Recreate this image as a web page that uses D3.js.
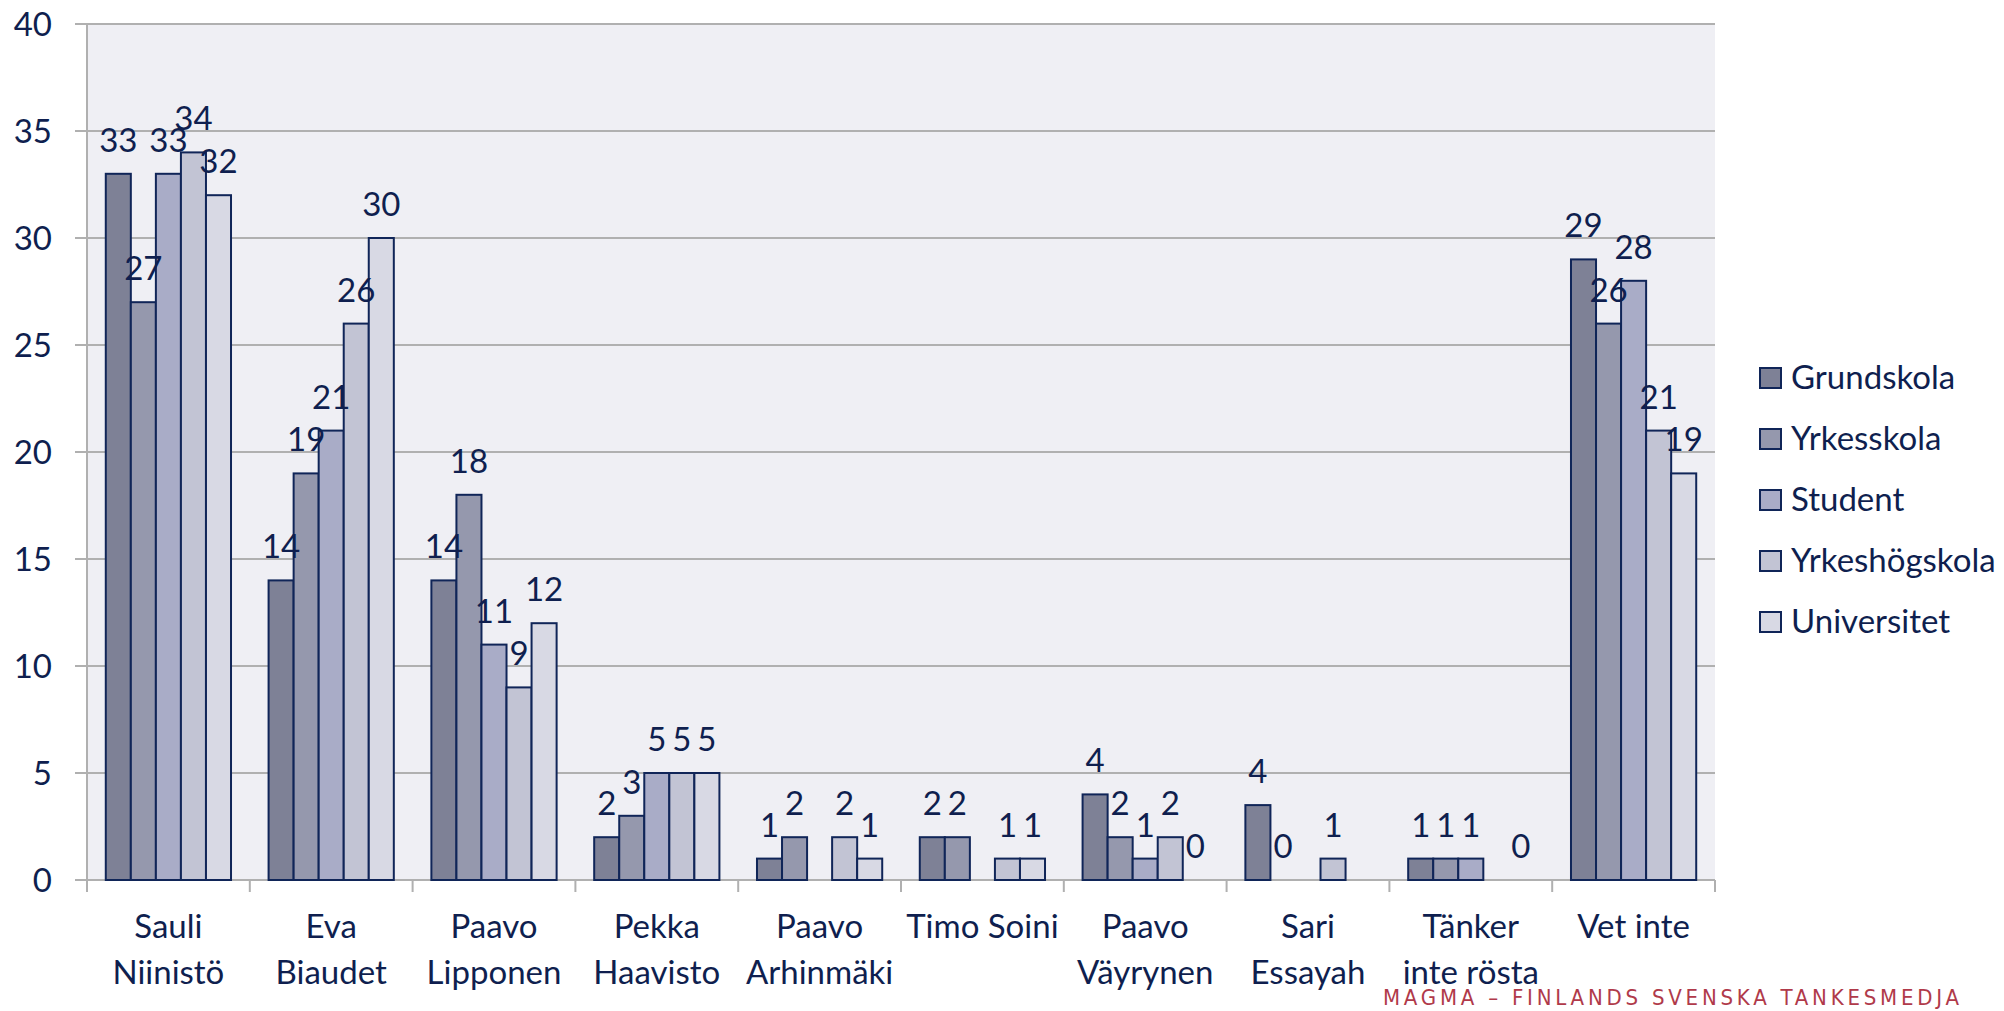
<!DOCTYPE html>
<meta charset="utf-8">
<head>
    <title>Presidentval per utbildning</title>
    <style>
        body { margin: 0; background: #ffffff; }
        text { font-family: Lato, "Open Sans", sans-serif; fill: #0f1f4f; }
    </style>
</head>
<body>
    <script src="https://cdn.jsdelivr.net/npm/d3@7"></script>
    <script>
        // categories (candidates), split in lines as in the original
        var candidates = [
            ["Sauli", "Niinistö"],
            ["Eva", "Biaudet"],
            ["Paavo", "Lipponen"],
            ["Pekka", "Haavisto"],
            ["Paavo", "Arhinmäki"],
            ["Timo Soini"],
            ["Paavo", "Väyrynen"],
            ["Sari", "Essayah"],
            ["Tänker", "inte rösta"],
            ["Vet inte"]
        ];
        var series = ["Grundskola", "Yrkesskola", "Student", "Yrkeshögskola", "Universitet"];
        var colors = ["#7e8196", "#9598ad", "#a9acc7", "#c2c4d4", "#d8d9e4"];

        // values per series, null = no bar and no label
        var grundskola    = [33, 14, 14, 2, 1, 2, 4, 3.5, 1, 29];
        var yrkesskola    = [27, 19, 18, 3, 2, 2, 2, 0, 1, 26];
        var student       = [33, 21, 11, 5, null, null, 1, null, 1, 28];
        var yrkeshogskola = [34, 26, 9, 5, 2, 1, 2, 1, null, 21];
        var universitet   = [32, 30, 12, 5, 1, 1, 0, null, 0, 19];
        var yTicks = [0, 5, 10, 15, 20, 25, 30, 35, 40];

        var values = [grundskola, yrkesskola, student, yrkeshogskola, universitet];

        var width = 2004, height = 1011;
        var plot = { left: 87, right: 1715, top: 24, bottom: 880 };
        var fontSize = "33px";

        var svg = d3.select("body").append("svg")
            .attr("width", width)
            .attr("height", height);

        var x = d3.scaleBand()
            .domain(d3.range(candidates.length))
            .range([plot.left, plot.right]);

        // Excel style gap: 1.5 bar widths between groups
        var barW = x.bandwidth() / (series.length + 1.5);
        var x1 = d3.scaleBand()
            .domain(d3.range(series.length))
            .range([barW * 0.75, barW * 0.75 + barW * series.length]);

        var y = d3.scaleLinear()
            .domain([0, 40])
            .range([plot.bottom, plot.top]);

        // plot background
        svg.append("rect")
            .attr("x", plot.left)
            .attr("y", plot.top)
            .attr("width", plot.right - plot.left)
            .attr("height", plot.bottom - plot.top)
            .style("fill", "#efeff4");

        // gridlines
        svg.append("g")
            .selectAll("line")
            .data(yTicks)
            .enter()
            .append("line")
            .attr("x1", plot.left - 12)
            .attr("x2", plot.right)
            .attr("y1", function (d) { return y(d); })
            .attr("y2", function (d) { return y(d); })
            .style("stroke", "#b0b0b0")
            .style("stroke-width", 2);

        // y axis line
        svg.append("line")
            .attr("x1", plot.left).attr("x2", plot.left)
            .attr("y1", plot.top).attr("y2", plot.bottom + 12)
            .style("stroke", "#b0b0b0")
            .style("stroke-width", 2);

        // category ticks
        svg.append("g")
            .selectAll("line")
            .data(d3.range(candidates.length + 1))
            .enter()
            .append("line")
            .attr("x1", function (d) { return plot.left + d * x.step(); })
            .attr("x2", function (d) { return plot.left + d * x.step(); })
            .attr("y1", plot.bottom)
            .attr("y2", plot.bottom + 12)
            .style("stroke", "#b0b0b0")
            .style("stroke-width", 2);

        // y tick labels
        svg.append("g")
            .selectAll("text")
            .data(yTicks)
            .enter()
            .append("text")
            .attr("x", 52)
            .attr("y", function (d) { return y(d) + 12; })
            .attr("text-anchor", "end")
            .style("font-size", fontSize)
            .text(function (d) { return d; });

        // flat list of points
        var points = [];
        values.forEach(function (arr, s) {
            arr.forEach(function (v, c) {
                if (v !== null) points.push({ s: s, c: c, v: v });
            });
        });

        // bars
        svg.append("g")
            .selectAll("rect")
            .data(points.filter(function (d) { return d.v > 0; }))
            .enter()
            .append("rect")
            .attr("x", function (d) { return x(d.c) + x1(d.s); })
            .attr("width", x1.bandwidth())
            .attr("y", function (d) { return y(d.v); })
            .attr("height", function (d) { return y(0) - y(d.v); })
            .style("fill", function (d) { return colors[d.s]; })
            .style("stroke", "#102558")
            .style("stroke-width", 2);

        // data labels, drawn over every bar
        var fmt = d3.format(".0f");
        svg.append("g")
            .selectAll("text")
            .data(points)
            .enter()
            .append("text")
            .attr("x", function (d) { return x(d.c) + x1(d.s) + x1.bandwidth() / 2; })
            .attr("y", function (d) { return y(d.v) - 22; })
            .attr("text-anchor", "middle")
            .style("font-size", fontSize)
            .text(function (d) { return fmt(d.v); });

        // category labels
        var cat = svg.append("g")
            .selectAll("text")
            .data(candidates)
            .enter()
            .append("text")
            .attr("text-anchor", "middle")
            .style("font-size", fontSize);

        cat.selectAll("tspan")
            .data(function (d, i) { return d.map(function (t) { return { t: t, c: i }; }); })
            .enter()
            .append("tspan")
            .attr("x", function (d) { return x(d.c) + x.bandwidth() / 2; })
            .attr("y", function (d, j) { return 938 + j * 46; })
            .text(function (d) { return d.t; });

        // legend
        var legend = svg.append("g")
            .attr("transform", "translate(1760,368)");

        legend.selectAll("rect")
            .data(series)
            .enter()
            .append("rect")
            .attr("x", 0)
            .attr("y", function (d, i) { return i * 61; })
            .attr("width", 21)
            .attr("height", 20)
            .style("fill", function (d, i) { return colors[i]; })
            .style("stroke", "#102558")
            .style("stroke-width", 2);

        legend.selectAll("text")
            .data(series)
            .enter()
            .append("text")
            .attr("x", 31)
            .attr("y", function (d, i) { return i * 61 + 21; })
            .style("font-size", fontSize)
            .text(function (d) { return d; });

        // footer
        svg.append("text")
            .attr("x", 1383)
            .attr("y", 1005)
            .attr("textLength", 576)
            .attr("lengthAdjust", "spacing")
            .style("font-family", "'DejaVu Sans Condensed', 'Liberation Sans Narrow', 'DejaVu Sans', sans-serif")
            .style("font-size", "22px")
            .style("fill", "#b03a4a")
            .text("MAGMA – FINLANDS SVENSKA TANKESMEDJA");
    </script>
</body>
</html>
